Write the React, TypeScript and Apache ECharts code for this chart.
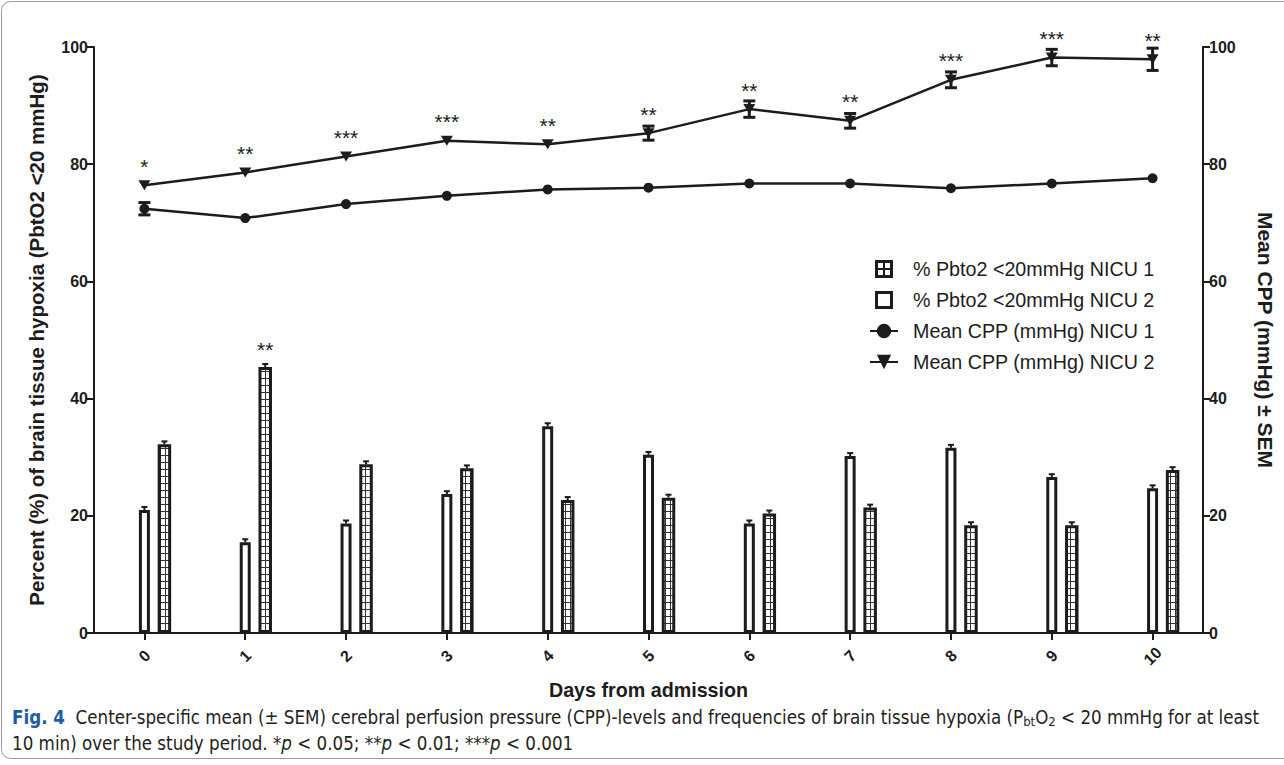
import React, { useEffect, useRef } from "react";
import * as echarts from "echarts";

// ---------- data ----------
const days = ["0", "1", "2", "3", "4", "5", "6", "7", "8", "9", "10"];
const hypoxiaNicu1 = [32.2, 45.4, 28.8, 28.1, 22.7, 23.1, 20.4, 21.4, 18.4, 18.4, 27.8];
const hypoxiaNicu2 = [21.0, 15.5, 18.7, 23.7, 35.3, 30.4, 18.7, 30.2, 31.6, 26.6, 24.7];
const hypoxiaSemNicu1 = [0.5, 0.5, 0.5, 0.5, 0.5, 0.5, 0.5, 0.5, 0.5, 0.5, 0.5];
const hypoxiaSemNicu2 = [0.5, 0.5, 0.5, 0.5, 0.5, 0.5, 0.5, 0.5, 0.5, 0.5, 0.5];
const hypoxiaStarsNicu1 = ["", "**", "", "", "", "", "", "", "", "", ""];
const cppNicu1 = [72.4, 70.8, 73.2, 74.6, 75.7, 76.0, 76.7, 76.7, 75.9, 76.7, 77.6];
const cppSemNicu1 = [1.05, 0.3, 0.3, 0.3, 0.3, 0.3, 0.3, 0.3, 0.3, 0.3, 0.3];
const cppNicu2 = [76.4, 78.6, 81.3, 84.0, 83.4, 85.3, 89.4, 87.4, 94.4, 98.2, 97.9];
const cppSemNicu2 = [0.3, 0.4, 0.4, 0.4, 0.4, 1.2, 1.4, 1.25, 1.35, 1.4, 1.9];
const cppStarsNicu2 = ["*", "**", "***", "***", "**", "**", "**", "**", "***", "***", "**"];
const yMin = 0;
const yMax = 100;
const yInterval = 20;

const NAME_H1 = "% Pbto2 <20mmHg NICU 1";
const NAME_H2 = "% Pbto2 <20mmHg NICU 2";
const NAME_C1 = "Mean CPP (mmHg) NICU 1";
const NAME_C2 = "Mean CPP (mmHg) NICU 2";

const FONT = "'Liberation Sans', Arial, Helvetica, sans-serif";
const CAP_FONT = "'Liberation Sans Narrow', 'DejaVu Sans Condensed', 'Liberation Sans', sans-serif";
const INK = "#1c1c1c";
const HATCH_OFFSET = 20; // px offset of NICU 1 bar from tick
const W_OPEN = 11;
const W_HATCH = 13.5;
const GAP = 0.7045;
const W_SPACER = (W_OPEN * GAP + W_HATCH) / (1 + GAP);

const iconHatched =
  "path://M0 0H18V18H0Z M3 3V8H8V3Z M10 3V8H15V3Z M3 10V15H8V10Z M10 10V15H15V10Z";
const iconOpen = "path://M0 0H18V18H0Z M3 3V15H15V3Z";

function makeGridPattern(): HTMLCanvasElement {
  const c = document.createElement("canvas");
  c.width = 5;
  c.height = 7;
  const ctx = c.getContext("2d")!;
  ctx.fillStyle = "#ffffff";
  ctx.fillRect(0, 0, 5, 7);
  ctx.fillStyle = "#333333";
  ctx.fillRect(0, 0, 5, 1);
  ctx.fillRect(0, 0, 1, 7);
  return c;
}

function errRender(offset: number, minPx: number, cap: number, lw: number, upperOnly: boolean) {
  return (params: any, api: any) => {
    const x = api.value(0);
    const v = api.value(1);
    const e = api.value(2);
    const top = api.coord([x, v + e]);
    const bot = api.coord([x, upperOnly ? v : v - e]);
    const mid = api.coord([x, v]);
    if (Math.abs(mid[1] - top[1]) < minPx) return null;
    const cx = top[0] + offset;
    const st = { stroke: INK, lineWidth: lw };
    const children: any[] = [
      { type: "line", shape: { x1: cx, y1: top[1], x2: cx, y2: bot[1] }, style: st },
      { type: "line", shape: { x1: cx - cap, y1: top[1], x2: cx + cap, y2: top[1] }, style: st },
    ];
    if (!upperOnly) {
      children.push({ type: "line", shape: { x1: cx - cap, y1: bot[1], x2: cx + cap, y2: bot[1] }, style: st });
    }
    return { type: "group", children };
  };
}

function starRender(offset: number, dy: number) {
  return (params: any, api: any) => {
    const p = api.coord([api.value(0), api.value(1)]);
    const txt = api.value(2);
    return {
      type: "text",
      style: {
        x: p[0] + offset,
        y: p[1] - dy,
        text: String(txt ?? ""),
        align: "center",
        verticalAlign: "middle",
        fontSize: 21,
        fontFamily: FONT,
        fill: INK,
      },
    };
  };
}

export default function App() {
  const ref = useRef<HTMLDivElement>(null);

  useEffect(() => {
    if (!ref.current) return;
    const chart = echarts.init(ref.current, undefined, { renderer: "svg" });
    const pattern = makeGridPattern();

    const barErr1 = days.map((_, i) => [i, hypoxiaNicu1[i], hypoxiaSemNicu1[i]]);
    const barErr2 = days.map((_, i) => [i, hypoxiaNicu2[i], hypoxiaSemNicu2[i]]);
    const cppErr1 = days.map((_, i) => [i, cppNicu1[i], cppSemNicu1[i]]);
    const cppErr2 = days.map((_, i) => [i, cppNicu2[i], cppSemNicu2[i]]);
    const cppStarData = days.map((_, i) => [i, cppNicu2[i], cppStarsNicu2[i]]);
    const barStarData = days
      .map((_, i) => [i, hypoxiaNicu1[i], hypoxiaStarsNicu1[i]])
      .filter((d) => d[2] !== "");

    const axisCommon = {
      min: yMin,
      max: yMax,
      interval: yInterval,
      splitLine: { show: false },
      axisLine: { show: true, lineStyle: { color: INK, width: 2 } },
      axisTick: { show: true, length: 7, lineStyle: { color: INK, width: 2 } },
      axisLabel: { color: INK, fontSize: 16, fontWeight: "bold", fontFamily: FONT, margin: 6 },
      nameLocation: "middle",
    };

    const gapStr = GAP * 100 + "%";

    chart.setOption({
      animation: false,
      backgroundColor: "#ffffff",
      textStyle: { fontFamily: FONT },
      grid: { left: 94, right: 80, top: 47, bottom: 132, containLabel: false },
      legend: {
        orient: "vertical",
        left: 869,
        top: 259,
        padding: 0,
        itemWidth: 28,
        itemHeight: 18,
        itemGap: 11,
        symbolKeepAspect: true,
        selectedMode: false,
        textStyle: { color: INK, fontSize: 19.7, fontFamily: FONT, padding: [0, 0, 0, 10] },
        data: [
          { name: NAME_H1, icon: iconHatched, itemStyle: { color: INK, borderWidth: 0 } },
          { name: NAME_H2, icon: iconOpen, itemStyle: { color: INK, borderWidth: 0 } },
          { name: NAME_C1 },
          { name: NAME_C2 },
        ],
      },
      xAxis: {
        type: "category",
        data: days,
        boundaryGap: true,
        name: "Days from admission",
        nameLocation: "middle",
        nameGap: 47,
        nameTextStyle: { color: INK, fontSize: 19.7, fontWeight: "bold", fontFamily: FONT },
        axisLine: { show: true, lineStyle: { color: INK, width: 2 } },
        axisTick: { show: true, alignWithLabel: true, length: 7, lineStyle: { color: INK, width: 2 } },
        axisLabel: {
          color: INK,
          fontSize: 16,
          fontWeight: "bold",
          fontFamily: FONT,
          rotate: 45,
          align: "center",
          verticalAlign: "middle",
          margin: 23,
        },
        splitLine: { show: false },
      },
      yAxis: [
        {
          type: "value",
          position: "left",
          name: "Percent (%) of brain tissue hypoxia (PbtO2 <20 mmHg)",
          nameGap: 47,
          nameRotate: 90,
          nameTextStyle: { color: INK, fontSize: 20.5, fontWeight: "bold", fontFamily: FONT },
          ...axisCommon,
        },
        {
          type: "value",
          position: "right",
          name: "Mean CPP (mmHg) ± SEM",
          nameGap: 52,
          nameRotate: -90,
          nameTextStyle: { color: INK, fontSize: 21, fontWeight: "bold", fontFamily: FONT },
          ...axisCommon,
        },
      ],
      series: [
        {
          name: "_spacer",
          type: "bar",
          data: days.map(() => "-"),
          barWidth: W_SPACER,
          barGap: gapStr,
          silent: true,
        },
        {
          name: NAME_H2,
          type: "bar",
          data: hypoxiaNicu2,
          barWidth: W_OPEN,
          barGap: gapStr,
          itemStyle: { color: "#ffffff", borderColor: INK, borderWidth: 3 },
          z: 2,
        },
        {
          name: NAME_H1,
          type: "bar",
          data: hypoxiaNicu1,
          barWidth: W_HATCH,
          barGap: gapStr,
          itemStyle: { color: { image: pattern, repeat: "repeat" }, borderColor: INK, borderWidth: 3 },
          z: 2,
        },
        {
          name: "_barErr2",
          type: "custom",
          data: barErr2,
          renderItem: errRender(0, 0, 3, 2, true),
          z: 3,
          silent: true,
        },
        {
          name: "_barErr1",
          type: "custom",
          data: barErr1,
          renderItem: errRender(HATCH_OFFSET, 0, 3, 2, true),
          z: 3,
          silent: true,
        },
        {
          name: "_barStars",
          type: "custom",
          data: barStarData,
          renderItem: starRender(HATCH_OFFSET, 17),
          z: 5,
          silent: true,
        },
        {
          name: NAME_C1,
          type: "line",
          yAxisIndex: 1,
          data: cppNicu1,
          symbol: "circle",
          symbolSize: 10,
          lineStyle: { color: INK, width: 2.5 },
          itemStyle: { color: INK },
          z: 4,
        },
        {
          name: NAME_C2,
          type: "line",
          yAxisIndex: 1,
          data: cppNicu2,
          symbol: "triangle",
          symbolRotate: 180,
          symbolSize: [12, 10],
          lineStyle: { color: INK, width: 2.5 },
          itemStyle: { color: INK },
          z: 4,
        },
        {
          name: "_cppErr1",
          type: "custom",
          yAxisIndex: 1,
          data: cppErr1,
          renderItem: errRender(0, 5, 6, 3, false),
          z: 5,
          silent: true,
        },
        {
          name: "_cppErr2",
          type: "custom",
          yAxisIndex: 1,
          data: cppErr2,
          renderItem: errRender(0, 5, 6, 3, false),
          z: 5,
          silent: true,
        },
        {
          name: "_cppStars",
          type: "custom",
          yAxisIndex: 1,
          data: cppStarData,
          renderItem: starRender(0, 19),
          z: 5,
          silent: true,
        },
      ],
      graphic: [
        {
          type: "rect",
          shape: { x: 1.5, y: 1.5, width: 1320, height: 757, r: 9 },
          style: { fill: "none", stroke: "#9a9a9a", lineWidth: 1 },
          silent: true,
          z: -1,
        },
        {
          type: "text",
          left: 12,
          top: 706,
          style: {
            text:
              "{b|Fig. 4}  Center-specific mean (± SEM) cerebral perfusion pressure (CPP)-levels and frequencies of brain tissue hypoxia (P{s|bt}O{s|2} < 20 mmHg for at least",
            fill: "#231f20",
            fontSize: 18.6,
            fontFamily: CAP_FONT,
            lineHeight: 22,
            rich: {
              b: { fontWeight: "bold", fill: "#1f5ca6", fontSize: 18.6, fontFamily: CAP_FONT, lineHeight: 22 },
              s: { fontSize: 13, fontFamily: CAP_FONT, verticalAlign: "bottom", lineHeight: 22, fill: "#231f20" },
            },
          },
        },
        {
          type: "text",
          left: 12,
          top: 732,
          style: {
            text: "10 min) over the study period. *{i|p} < 0.05; **{i|p} < 0.01; ***{i|p} < 0.001",
            fill: "#231f20",
            fontSize: 18.6,
            fontFamily: CAP_FONT,
            lineHeight: 22,
            rich: {
              i: { fontStyle: "italic", fontSize: 18.6, fontFamily: CAP_FONT, lineHeight: 22, fill: "#231f20" },
            },
          },
        },
      ],
    });

    return () => chart.dispose();
  }, []);

  return (
    <div
      ref={ref}
      style={{ position: "fixed", left: 0, top: 0, width: 1284, height: 765, background: "#fff" }}
    />
  );
}
